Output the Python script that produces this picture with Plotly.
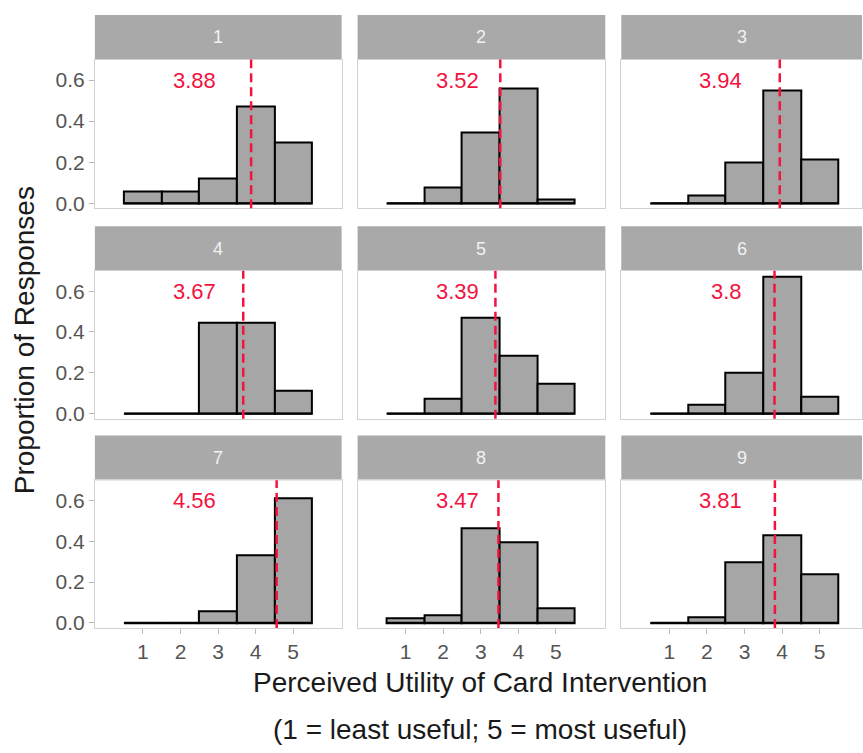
import plotly.graph_objects as go
from plotly.subplots import make_subplots

# ---------------- data ----------------
ratings = [1, 2, 3, 4, 5]
cards = ["1", "2", "3", "4", "5", "6", "7", "8", "9"]
card1 = [0.059, 0.059, 0.118, 0.471, 0.294]
card2 = [0.0, 0.077, 0.346, 0.558, 0.019]
card3 = [0.0, 0.036, 0.200, 0.550, 0.214]
card4 = [0.0, 0.0, 0.444, 0.444, 0.111]
card5 = [0.0, 0.073, 0.470, 0.285, 0.146]
card6 = [0.0, 0.042, 0.200, 0.670, 0.084]
card7 = [0.0, 0.0, 0.056, 0.333, 0.611]
card8 = [0.023, 0.039, 0.467, 0.398, 0.073]
card9 = [0.0, 0.027, 0.300, 0.430, 0.240]
means = [3.88, 3.52, 3.94, 3.67, 3.39, 3.8, 4.56, 3.47, 3.81]
mean_labels = ["3.88", "3.52", "3.94", "3.67", "3.39", "3.8", "4.56", "3.47", "3.81"]
y_tick_vals = [0.0, 0.2, 0.4, 0.6]
y_tick_text = ["0.0", "0.2", "0.4", "0.6"]
x_title = "Perceived Utility of Card Intervention"
x_subtitle = "(1 = least useful; 5 = most useful)"
y_title = "Proportion of Responses"

all_cards = [card1, card2, card3, card4, card5, card6, card7, card8, card9]

# ---------------- style / layout ----------------
W, H = 863, 753
FONT = "Liberation Sans, Arial, sans-serif"
RED = "#f2133f"
BAR_FILL = "#a6a6a6"
STRIP_FILL = "#a9a9a9"
BORDER = "#d2d2d2"
TICK_COL = "#b8b8b8"
TICKLAB_COL = "#555555"
LABEL_X = 3.0
LABEL_Y = 0.6

col_px = [(95, 342), (358, 606), (622, 863)]
row_px = [(60, 210), (273, 422), (484, 633)]  # plot area top/bottom
strip_h = 45
px_per_unit = 37.6
x_lo = -0.28

fig = make_subplots(rows=3, cols=3)

shapes = []
annotations = []

for i, vals in enumerate(all_cards):
    r, c = divmod(i, 3)
    fig.add_trace(
        go.Bar(
            x=ratings, y=vals, width=1,
            marker=dict(color=BAR_FILL, line=dict(color="black", width=2)),
            showlegend=False, hoverinfo="x+y",
        ),
        row=r + 1, col=c + 1,
    )
    sfx = "" if i == 0 else str(i + 1)
    xa, ya = "x" + sfx, "y" + sfx
    x0p, x1p = col_px[c]
    ytop, ybot = row_px[r]
    xdom = [x0p / W, x1p / W]
    ydom = [1 - ybot / H, 1 - ytop / H]
    x_hi = x_lo + (x1p - x0p) / px_per_unit
    bottom = r == 2
    left = c == 0
    fig.layout["xaxis" + sfx].update(
        domain=xdom, range=[x_lo, x_hi], tickvals=ratings,
        showticklabels=bottom, ticks="outside" if bottom else "",
        ticklen=5, tickcolor=TICK_COL, tickwidth=1,
        tickfont=dict(family=FONT, size=21, color=TICKLAB_COL),
        showline=True, mirror=True, linecolor=BORDER, linewidth=1,
        showgrid=False, zeroline=False, fixedrange=True,
    )
    fig.layout["yaxis" + sfx].update(
        domain=ydom, range=[-0.025, 0.70], tickvals=y_tick_vals, ticktext=y_tick_text,
        showticklabels=left, ticks="outside" if left else "",
        ticklen=5, tickcolor=TICK_COL, tickwidth=1,
        tickfont=dict(family=FONT, size=21, color=TICKLAB_COL),
        showline=True, mirror=True, linecolor=BORDER, linewidth=1,
        showgrid=False, zeroline=False, fixedrange=True,
    )
    # baseline of zero-height bars (outline drawn by ggplot)
    shapes.append(dict(
        type="line", xref=xa, yref=ya,
        x0=min(ratings) - 0.5, x1=max(ratings) + 0.5, y0=0, y1=0,
        line=dict(color="black", width=2),
    ))
    # mean line
    shapes.append(dict(
        type="line", xref=xa, yref=ya + " domain",
        x0=means[i], x1=means[i], y0=0, y1=1,
        line=dict(color=RED, width=2.5, dash="9px,5px"),
    ))
    # strip
    shapes.append(dict(
        type="rect", xref="paper", yref="paper",
        x0=xdom[0], x1=xdom[1], y0=ydom[1], y1=1 - (ytop - strip_h) / H,
        fillcolor=STRIP_FILL, line=dict(width=0), layer="below",
    ))
    annotations.append(dict(
        xref="paper", yref="paper",
        x=(xdom[0] + xdom[1]) / 2, y=1 - (ytop - strip_h / 2) / H,
        text=cards[i], showarrow=False,
        font=dict(family=FONT, size=18, color="#f2f2f2"),
        xanchor="center", yanchor="middle",
    ))
    # mean label
    annotations.append(dict(
        xref=xa, yref=ya, x=LABEL_X, y=LABEL_Y,
        text=mean_labels[i], showarrow=False,
        font=dict(family=FONT, size=22, color=RED),
        xanchor="right", yanchor="middle",
    ))

# axis titles
annotations.append(dict(
    xref="paper", yref="paper", x=481 / W, y=1 - 688 / H,
    text=x_title, showarrow=False,
    font=dict(family=FONT, size=28, color="#1a1a1a"),
    xanchor="center", yanchor="middle",
))
annotations.append(dict(
    xref="paper", yref="paper", x=481 / W, y=1 - 735 / H,
    text=x_subtitle, showarrow=False,
    font=dict(family=FONT, size=28, color="#1a1a1a"),
    xanchor="center", yanchor="middle",
))
annotations.append(dict(
    xref="paper", yref="paper", x=24 / W, y=1 - 343 / H,
    text=y_title, showarrow=False, textangle=-90,
    font=dict(family=FONT, size=28, color="#1a1a1a"),
    xanchor="center", yanchor="middle",
))

fig.update_layout(
    width=W, height=H,
    margin=dict(l=0, r=0, t=0, b=0),
    paper_bgcolor="white", plot_bgcolor="white",
    shapes=shapes, annotations=annotations,
    bargap=0, showlegend=False,
    font=dict(family=FONT),
)

fig.write_html(
    "out.html",
    config={"displayModeBar": False},
    post_script="document.body.style.margin='0px';document.body.style.overflow='hidden';",
)
